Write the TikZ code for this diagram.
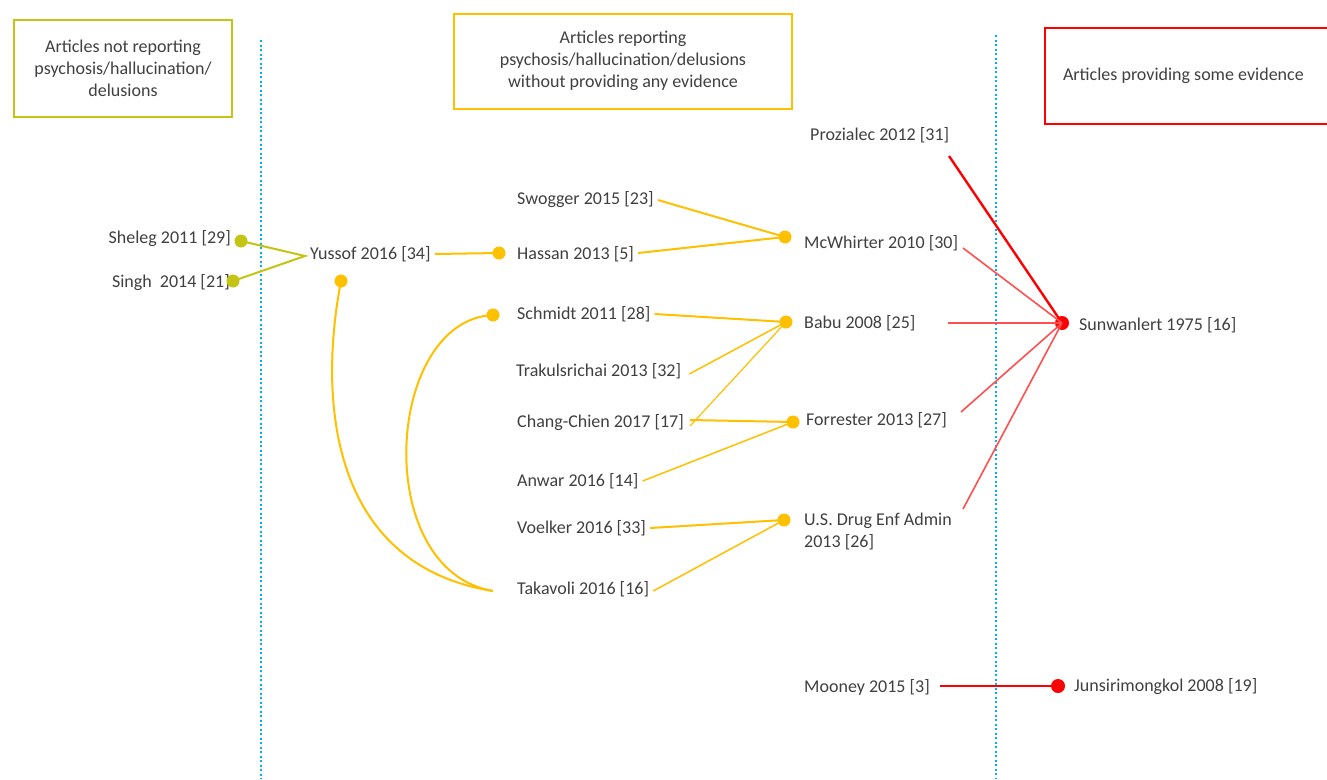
\documentclass[tikz,border=0pt]{standalone}
\usepackage{fontspec}
\setmainfont{Carlito}
\definecolor{txt}{RGB}{64,64,64}
\definecolor{olive}{RGB}{196,196,20}
\definecolor{orng}{RGB}{255,192,0}
\definecolor{redd}{RGB}{255,0,0}
\definecolor{redl}{RGB}{255,80,80}
\definecolor{cyanl}{RGB}{0,176,240}
\begin{document}
\begin{tikzpicture}[x=1pt,y=-1pt,
  every node/.style={font=\fontsize{18}{22}\selectfont, text=txt},
  lbl/.style={inner sep=4pt, anchor=west},
  lble/.style={inner sep=4pt, anchor=east},
  dotO/.style={circle, fill=orng, inner sep=0pt, minimum size=13pt},
  dotG/.style={circle, fill=olive, inner sep=0pt, minimum size=13pt},
  dotR/.style={circle, fill=redd, inner sep=0pt, minimum size=14pt},
  olink/.style={draw=orng, line width=2pt},
  othin/.style={draw=orng, line width=1.2pt},
  glink/.style={draw=olive, line width=2pt},
  rlink/.style={draw=redl, line width=1.6pt},
  rthick/.style={draw=redd, line width=2.4pt},
  divider/.style={draw=cyanl, line width=1.6pt, dash pattern=on 2pt off 2.5pt},
  hbox/.style={draw, line width=2pt, align=center}]
\useasboundingbox (0,0) rectangle (1327,779);
\fill[white] (0,0) rectangle (1327,779);

% dividers
\coordinate (d1t) at (261,40); \coordinate (d1b) at (261,779);
\coordinate (d2t) at (996,35); \coordinate (d2b) at (996,779);
\draw[divider] (d1t) -- (d1b);
\draw[divider] (d2t) -- (d2b);

% header boxes
\node[hbox, draw=olive, minimum width=218pt, minimum height=97pt] (box1) at (123,68)
  {Articles not reporting\\psychosis/hallucination/\\delusions};
\node[hbox, draw=orng, minimum width=338pt, minimum height=95pt] (box2) at (623,61)
  {Articles reporting\\psychosis/hallucination/delusions\\without providing any evidence};
\node[draw=redd, line width=2pt, minimum width=284pt, minimum height=96pt, text width=248pt,
  inner xsep=18pt, align=flush left] (box3) at (1187,76) {Articles providing some evidence};

% labels
\node[lble] (sheleg) at (235,239) {Sheleg 2011 [29]};
\node[lble] (singh) at (234,283) {Singh~ 2014 [21]};
\node[lbl] (yussof) at (306,254) {Yussof 2016 [34]};
\node[lbl] (swogger) at (513,200) {Swogger 2015 [23]};
\node[lbl] (hassan) at (513,254) {Hassan 2013 [5]};
\node[lbl] (schmidt) at (513,314) {Schmidt 2011 [28]};
\node[lbl] (trak) at (512,371) {Trakulsrichai 2013 [32]};
\node[lbl] (chang) at (513,423) {Chang-Chien 2017 [17]};
\node[lbl] (anwar) at (513,481) {Anwar 2016 [14]};
\node[lbl] (voelker) at (513,528) {Voelker 2016 [33]};
\node[lbl] (takavoli) at (513,589) {Takavoli 2016 [16]};
\node[lbl] (proz) at (806,135) {Prozialec 2012 [31]};
\node[lbl] (mcw) at (800,243) {McWhirter 2010 [30]};
\node[lbl] (babu) at (800,323) {Babu 2008 [25]};
\node[lbl] (forr) at (802,420) {Forrester 2013 [27]};
\node[lbl, align=left] (usdea) at (800,531) {U.S. Drug Enf Admin\\2013 [26]};
\node[lbl] (mooney) at (800,687) {Mooney 2015 [3]};
\node[lbl] (sun) at (1075,325) {Sunwanlert 1975 [16]};
\node[lbl] (juns) at (1070,687) {Junsirimongkol 2008 [19]};

% junction points and free ends
\coordinate (yj) at (305,256);
\coordinate (takL) at (493,591);
\coordinate (prozE) at (949,156);
\coordinate (mcwE) at (963,248);
\coordinate (babuE) at (948,323);
\coordinate (forrE) at (961,412);
\coordinate (usdeaE) at (963,509);
\coordinate (moonE) at (940,686);

% dots
\node[dotG] (dSheleg) at (241,241) {};
\node[dotG] (dSingh) at (233,281) {};
\node[dotO] (dYussof) at (341,281) {};
\node[dotO] (dHassan) at (499,253) {};
\node[dotO] (dSchmidt) at (493,315) {};
\node[dotO] (dMcw) at (785,237) {};
\node[dotO] (dBabu) at (786,322) {};
\node[dotO] (dForr) at (793,422) {};
\node[dotO] (dUsdea) at (784,520) {};
\node[dotR] (dSun) at (1062,323) {};
\node[dotR] (dJuns) at (1058,686) {};

% olive links
\draw[glink] (dSheleg.center) -- (yj) -- (dSingh.center);

% orange links
\draw[olink] (yussof.east) -- (dHassan.center);
\draw[olink] (swogger.east) -- (dMcw.center);
\draw[olink] ([yshift=1pt]hassan.east) -- (dMcw.center);
\draw[olink] (schmidt.east) -- (dBabu.center);
\draw[othin, line width=1.5pt] ([shift={(4pt,-3pt)}]trak.east) -- (dBabu.center);
\draw[othin] ([shift={(2pt,-3pt)}]chang.east) -- (dBabu.center);
\draw[olink] ([shift={(2pt,3pt)}]chang.east) -- (dForr.center);
\draw[othin, line width=1.5pt] (anwar.east) -- (dForr.center);
\draw[olink] (voelker.east) -- (dUsdea.center);
\draw[othin, line width=1.5pt] ([yshift=-2pt]takavoli.east) -- (dUsdea.center);
\draw[olink] (dYussof.center) .. controls (318,400) and (330,565) .. (takL);
\draw[olink] (dSchmidt.center) .. controls (385,320) and (370,570) .. (takL);

% red links
\draw[rthick] (prozE) -- (dSun.center);
\draw[rlink] (mcwE) -- (dSun.center);
\draw[rlink, line width=2pt] (babuE) -- (dSun.center);
\draw[rlink] (forrE) -- (dSun.center);
\draw[rlink] (usdeaE) -- (dSun.center);
\draw[rthick] (moonE) -- (dJuns.center);
\end{tikzpicture}
\end{document}
